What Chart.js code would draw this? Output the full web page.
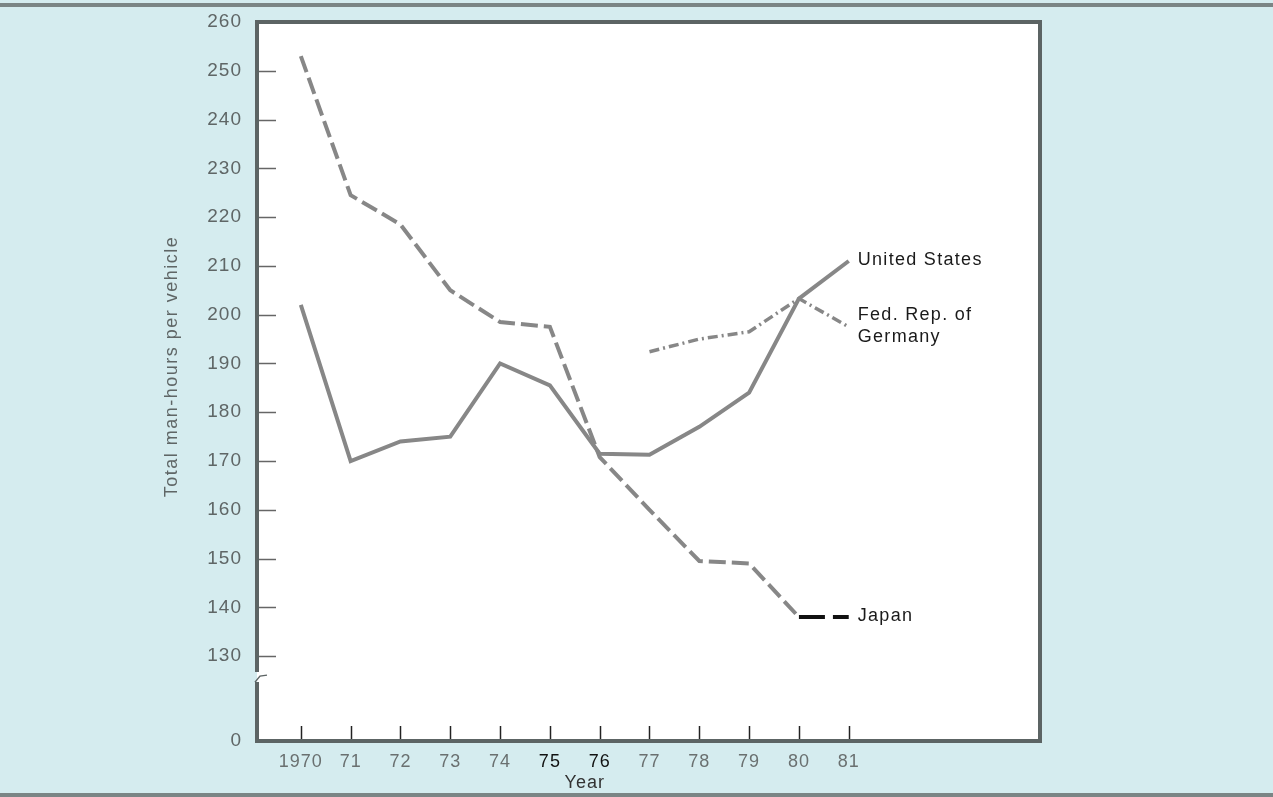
<!DOCTYPE html>
<html>
<head>
<meta charset="utf-8">
<script src="https://cdn.jsdelivr.net/npm/chart.js@4.4.1/dist/chart.umd.min.js"></script>
<style>
  html, body { margin: 0; padding: 0; background: #d5ecef; }
  canvas { display: block; }
</style>
</head>
<body>
<canvas id="chart" width="1273" height="797"></canvas>
<script>
// --- data ---
const years = [1970, 1971, 1972, 1973, 1974, 1975, 1976, 1977, 1978, 1979, 1980, 1981];
const unitedStates = [202, 170, 174, 175, 190, 185.5, 171.5, 171.3, 177, 184, 203.3, 211];
const japan = [253, 224.5, 218.5, 205, 198.5, 197.5, 170.8, 160, 149.5, 149, 138, 138];
const germany = [null, null, null, null, null, null, null, 192.4, 195, 196.5, 203.3, 197.5];
const yTickValues = [130, 140, 150, 160, 170, 180, 190, 200, 210, 220, 230, 240, 250, 260];
const yBreakFloor = 112.6; // axis value that stands for "0" below the break
const seriesNames = ["United States", "Japan", "Fed. Rep. of\nGermany"];

const LINE = "#878787";
const FONT = "'Liberation Sans', Arial, sans-serif";

const toPoints = arr => years.map((yr, i) => ({ x: yr, y: arr[i] }));

// --- background, box, ticks, labels ---
const frame = {
  id: "frame",
  beforeDraw(chart) {
    const { ctx, width, height, chartArea: a } = chart;
    ctx.save();
    ctx.fillStyle = "#d5ecef";
    ctx.fillRect(0, 0, width, height);
    ctx.fillStyle = "#7b8585";
    ctx.fillRect(0, 3, width, 4);
    ctx.fillRect(0, height - 4, width, 4);
    ctx.fillStyle = "#ffffff";
    ctx.fillRect(a.left, a.top, a.right - a.left, a.bottom - a.top);
    ctx.restore();
    ctx.letterSpacing = "1px";
  },
  afterDatasetsDraw(chart) {
    const { ctx, chartArea: a, scales } = chart;
    const x = scales.x, y = scales.y;
    ctx.save();

    // inner tick marks
    ctx.strokeStyle = "#666";
    ctx.lineWidth = 1.5;
    yTickValues.slice(0, -1).forEach(v => {
      const py = Math.round(y.getPixelForValue(v)) + 0.5;
      ctx.beginPath(); ctx.moveTo(a.left, py); ctx.lineTo(a.left + 19, py); ctx.stroke();
    });
    ctx.strokeStyle = "#222";
    years.forEach(yr => {
      const px = Math.round(x.getPixelForValue(yr)) + 0.5;
      ctx.beginPath(); ctx.moveTo(px, a.bottom); ctx.lineTo(px, a.bottom - 15); ctx.stroke();
    });

    // box with a break in the left side
    const breakTop = y.getPixelForValue(130) + 14;
    const breakBottom = breakTop + 14;
    ctx.strokeStyle = "#5c6464";
    ctx.lineWidth = 4;
    ctx.lineCap = "square";
    ctx.beginPath();
    ctx.moveTo(a.left, breakTop); ctx.lineTo(a.left, a.top);
    ctx.lineTo(a.right, a.top); ctx.lineTo(a.right, a.bottom);
    ctx.lineTo(a.left, a.bottom); ctx.lineTo(a.left, breakBottom);
    ctx.stroke();
    ctx.lineWidth = 1.5;
    ctx.lineCap = "butt";
    ctx.beginPath();
    ctx.moveTo(a.left - 2, breakBottom - 2);
    ctx.lineTo(a.left + 3, breakTop + 6);
    ctx.lineTo(a.left + 10, breakTop + 5);
    ctx.stroke();

    // series names at the line ends
    ctx.letterSpacing = "1.3px";
    ctx.font = "18px " + FONT;
    ctx.fillStyle = "#1a1a1a";
    ctx.textAlign = "left";
    ctx.textBaseline = "middle";
    chart.data.datasets.forEach((ds, i) => {
      const pts = chart.getDatasetMeta(i).data;
      const end = pts[pts.length - 1];
      const lines = seriesNames[i].split("\n");
      const lh = 22;
      lines.forEach((t, k) => {
        const dy = (k - (lines.length - 1) / 2) * lh;
        ctx.fillText(t, end.x + 9, end.y + dy - 1);
      });
    });

    // axis titles
    ctx.fillStyle = "#333";
    ctx.textAlign = "center";
    ctx.letterSpacing = "1px";
    const midX = (x.getPixelForValue(years[0]) + x.getPixelForValue(years[years.length - 1])) / 2;
    ctx.fillText("Year", midX + 10, a.bottom + 42);
    ctx.fillStyle = "#5f6666";
    ctx.font = "18px " + FONT;
    ctx.letterSpacing = "1.5px";
    ctx.translate(172, (a.top + a.bottom) / 2 - 15);
    ctx.rotate(-Math.PI / 2);
    ctx.fillText("Total man-hours per vehicle", 0, 0);
    ctx.restore();
  }
};

new Chart(document.getElementById("chart"), {
  type: "line",
  data: {
    datasets: [
      {
        label: "United States",
        data: toPoints(unitedStates),
        borderColor: LINE,
        borderWidth: 4,
        pointRadius: 0,
        tension: 0
      },
      {
        label: "Japan",
        data: toPoints(japan),
        borderColor: LINE,
        borderWidth: 4,
        borderDash: [17, 6],
        pointRadius: 0,
        segment: {
          borderColor: ctx => ctx.p0DataIndex === years.length - 2 ? "#111" : LINE,
          borderDash: ctx => ctx.p0DataIndex === years.length - 2 ? [26, 8] : [17, 6]
        }
      },
      {
        label: "Fed. Rep. of Germany",
        data: toPoints(germany),
        borderColor: LINE,
        borderWidth: 3.5,
        borderDash: [10, 4, 2, 4],
        pointRadius: 0
      }
    ]
  },
  options: {
    responsive: false,
    animation: false,
    events: [],
    layout: { padding: { top: 22, right: 233, left: 0, bottom: 0 } },
    plugins: { legend: { display: false }, tooltip: { enabled: false } },
    scales: {
      x: {
        type: "linear",
        min: 1969.12,
        max: 1984.84,
        grid: { display: false, drawTicks: false },
        border: { display: false },
        afterBuildTicks: s => { s.ticks = years.map(v => ({ value: v })); },
        afterFit: s => { s.height = 56; s.paddingLeft = 0; s.paddingRight = 0; },
        ticks: {
          autoSkip: false,
          maxRotation: 0,
          padding: 10,
          font: { family: FONT, size: 18 },
          color: ctx => (ctx.tick && (ctx.tick.value === 1975 || ctx.tick.value === 1976)) ? "#111" : "#6a7070",
          callback: v => v === years[0] ? String(v) : String(v % 100)
        }
      },
      y: {
        type: "linear",
        min: yBreakFloor,
        max: 260,
        grid: { display: false, drawTicks: false },
        border: { display: false },
        afterBuildTicks: s => { s.ticks = [yBreakFloor, ...yTickValues].map(v => ({ value: v })); },
        afterFit: s => { s.width = 257; s.paddingTop = 0; s.paddingBottom = 0; },
        ticks: {
          autoSkip: false,
          padding: 15,
          font: { family: FONT, size: 19 },
          color: "#5f6666",
          callback: v => Math.abs(v - yBreakFloor) < 0.01 ? "0" : String(v)
        }
      }
    }
  },
  plugins: [frame]
});
</script>
</body>
</html>
